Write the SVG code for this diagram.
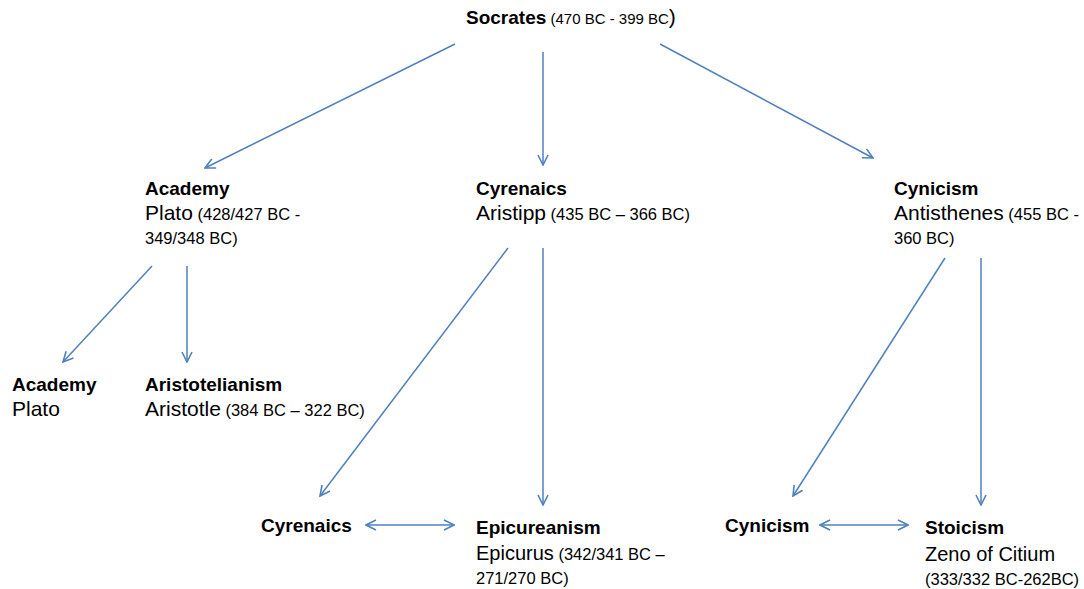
<svg xmlns="http://www.w3.org/2000/svg" width="1084" height="589" viewBox="0 0 1084 589">
<defs>
<style>
.b{font-family:"Liberation Sans",Arial,sans-serif;font-weight:bold;font-size:19px;fill:#000}
.r{font-family:"Liberation Sans",Arial,sans-serif;font-size:21px;fill:#000}
.d{font-size:16.5px}
.c line{stroke:#4f81bd;stroke-width:1.5;fill:none;marker-end:url(#ah)}
.c line.dbl{marker-start:url(#ah)}
</style>
<marker id="ah" viewBox="0 0 12 12" refX="11" refY="6" markerWidth="12" markerHeight="12" markerUnits="userSpaceOnUse" orient="auto-start-reverse">
<path d="M1,1 L11,6 L1,11" fill="none" stroke="#4f81bd" stroke-width="1.6"/>
</marker>
</defs>
<rect width="1084" height="589" fill="#fff"/>
<g id="connectors" class="c">
<line x1="455" y1="44" x2="205" y2="168"/>
<line x1="543" y1="52" x2="543" y2="165"/>
<line x1="660" y1="44" x2="873" y2="158"/>
<line x1="152" y1="266" x2="63" y2="362"/>
<line x1="187" y1="266" x2="187" y2="362"/>
<line x1="508" y1="248" x2="320" y2="496"/>
<line x1="543" y1="248" x2="543" y2="505"/>
<line x1="945" y1="258" x2="793" y2="496"/>
<line x1="981" y1="258" x2="981" y2="505"/>
<line class="dbl" x1="366" y1="525" x2="454" y2="525"/>
<line class="dbl" x1="820" y1="525" x2="908" y2="525"/>
</g>
<g id="socrates"><text x="466" y="24"><tspan class="b">Socrates</tspan><tspan class="r" style="font-size:15px"> (470 BC - 399 BC</tspan><tspan class="r">)</tspan></text></g>
<g id="academy1"><text class="b" x="145" y="195">Academy</text><text class="r" x="145" y="220">Plato<tspan class="d"> (428/427 BC -</tspan></text><text class="r d" x="145" y="244">349/348 BC)</text></g>
<g id="cyrenaics1"><text class="b" x="476" y="195">Cyrenaics</text><text class="r" x="476" y="220">Aristipp<tspan class="d"> (435 BC – 366 BC)</tspan></text></g>
<g id="cynicism1"><text class="b" x="894" y="195">Cynicism</text><text class="r" x="894" y="220">Antisthenes<tspan class="d"> (455 BC -</tspan></text><text class="r d" x="894" y="244">360 BC)</text></g>
<g id="academy2"><text class="b" x="12" y="391">Academy</text><text class="r" x="12" y="416">Plato</text></g>
<g id="aristotelianism"><text class="b" x="145" y="391">Aristotelianism</text><text class="r" x="145" y="416">Aristotle<tspan class="d"> (384 BC – 322 BC)</tspan></text></g>
<g id="cyrenaics2"><text class="b" x="261" y="532">Cyrenaics</text></g>
<g id="epicureanism"><text class="b" x="476" y="534">Epicureanism</text><text class="r" style="font-size:20px" x="476" y="560">Epicurus<tspan class="d"> (342/341 BC –</tspan></text><text class="r d" x="476" y="584">271/270 BC)</text></g>
<g id="cynicism2"><text class="b" x="725" y="532">Cynicism</text></g>
<g id="stoicism"><text class="b" x="925" y="534">Stoicism</text><text class="r" style="font-size:20px" x="925" y="561">Zeno of Citium</text><text class="r d" x="925" y="585">(333/332 BC-262BC)</text></g>
</svg>
